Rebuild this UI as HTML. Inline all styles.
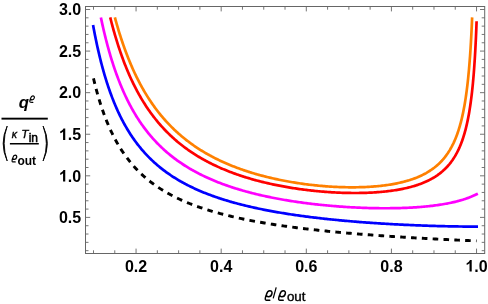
<!DOCTYPE html>
<html><head><meta charset="utf-8"><title>plot</title>
<style>
html,body{margin:0;padding:0;background:#fff;}
body{width:488px;height:304px;overflow:hidden;font-family:"Liberation Sans",sans-serif;}
svg{display:block;}
.gs{filter:grayscale(1);}
svg text{font-family:"Liberation Sans",sans-serif;}
.tl text{font-size:16px;font-weight:bold;fill:#000;}
.cv path{fill:none;stroke-width:2.7;stroke-linecap:butt;stroke-linejoin:round;}
</style></head>
<body>
<svg width="488" height="304" viewBox="0 0 488 304">
<rect x="0" y="0" width="488" height="304" fill="#fff"/>
<g class="cv">
<path d="M93.50,78.40 L93.88,80.01 L94.27,81.59 L94.65,83.15 L95.03,84.68 L95.42,86.18 L95.80,87.66 L96.18,89.11 L96.57,90.53 L96.95,91.94 L97.33,93.32 L97.72,94.67 L98.10,96.01 L98.48,97.32 L98.87,98.62 L99.25,99.89 L99.63,101.14 L100.01,102.37 L100.40,103.59 L100.78,104.78 L101.16,105.96 L101.55,107.12 L101.93,108.26 L102.51,109.94 L103.08,111.58 L103.66,113.19 L104.23,114.76 L104.81,116.30 L105.38,117.81 L105.96,119.28 L106.53,120.73 L107.10,122.14 L107.68,123.53 L108.25,124.89 L108.83,126.22 L109.40,127.52 L109.98,128.80 L110.55,130.06 L111.13,131.29 L111.70,132.50 L112.28,133.68 L112.85,134.85 L113.43,135.99 L114.00,137.11 L114.58,138.21 L115.15,139.29 L115.73,140.35 L116.49,141.74 L117.26,143.10 L118.03,144.42 L118.79,145.71 L119.56,146.98 L120.33,148.22 L121.09,149.43 L121.86,150.61 L122.63,151.77 L123.39,152.90 L124.16,154.01 L124.92,155.10 L125.69,156.17 L126.46,157.21 L127.22,158.23 L127.99,159.23 L128.76,160.22 L129.52,161.18 L130.29,162.12 L131.06,163.05 L132.01,164.19 L132.97,165.29 L133.93,166.37 L134.89,167.43 L135.85,168.46 L136.81,169.47 L137.76,170.46 L138.72,171.43 L139.68,172.37 L140.64,173.30 L141.60,174.20 L142.55,175.09 L143.51,175.96 L144.47,176.81 L145.43,177.64 L146.39,178.46 L147.34,179.26 L148.30,180.04 L149.26,180.81 L150.22,181.57 L151.18,182.31 L152.13,183.03 L153.28,183.89 L154.43,184.72 L155.58,185.54 L156.73,186.33 L157.88,187.11 L159.03,187.88 L160.18,188.63 L161.33,189.36 L162.48,190.08 L163.63,190.78 L164.78,191.47 L165.93,192.14 L167.08,192.81 L168.23,193.45 L169.38,194.09 L170.53,194.71 L171.68,195.33 L172.83,195.93 L173.98,196.52 L175.13,197.09 L176.28,197.66 L177.43,198.22 L178.58,198.77 L179.73,199.30 L180.88,199.83 L182.03,200.35 L183.18,200.86 L184.33,201.36 L185.48,201.85 L186.63,202.34 L187.77,202.81 L188.92,203.28 L190.07,203.74 L191.22,204.19 L192.37,204.64 L193.52,205.08 L194.67,205.51 L195.82,205.93 L196.97,206.35 L198.12,206.76 L199.27,207.17 L200.42,207.57 L201.57,207.96 L202.72,208.34 L203.87,208.73 L205.02,209.10 L206.17,209.47 L207.32,209.83 L208.47,210.19 L209.62,210.55 L210.77,210.89 L212.11,211.29 L213.45,211.69 L214.79,212.08 L216.13,212.46 L217.48,212.83 L218.82,213.20 L220.16,213.56 L221.50,213.92 L222.84,214.27 L224.18,214.62 L225.52,214.96 L226.86,215.29 L228.21,215.62 L229.55,215.95 L230.89,216.27 L232.23,216.59 L233.57,216.90 L234.91,217.20 L236.25,217.51 L237.60,217.81 L238.94,218.10 L240.28,218.39 L241.62,218.67 L242.96,218.96 L244.30,219.23 L245.64,219.51 L246.98,219.78 L248.33,220.04 L249.67,220.31 L251.01,220.57 L252.35,220.82 L253.69,221.07 L255.03,221.32 L256.37,221.57 L257.71,221.81 L259.06,222.05 L260.40,222.29 L261.74,222.52 L263.08,222.75 L264.42,222.98 L265.76,223.20 L267.10,223.43 L268.45,223.65 L269.79,223.86 L271.13,224.08 L272.47,224.29 L273.81,224.50 L275.15,224.70 L276.49,224.91 L277.83,225.11 L279.18,225.31 L280.52,225.50 L281.86,225.70 L283.20,225.89 L284.54,226.08 L285.88,226.27 L287.22,226.45 L288.56,226.64 L289.91,226.82 L291.25,227.00 L292.59,227.18 L293.93,227.35 L295.27,227.52 L296.61,227.70 L297.95,227.87 L299.30,228.03 L300.64,228.20 L301.98,228.37 L303.32,228.53 L304.66,228.69 L306.00,228.85 L307.34,229.01 L308.68,229.16 L310.03,229.32 L311.37,229.47 L312.71,229.62 L314.05,229.77 L315.39,229.92 L316.73,230.06 L318.07,230.21 L319.42,230.35 L320.76,230.50 L322.10,230.64 L323.44,230.78 L324.78,230.91 L326.12,231.05 L327.46,231.19 L328.80,231.32 L330.15,231.45 L331.49,231.59 L332.83,231.72 L334.17,231.84 L335.51,231.97 L336.85,232.10 L338.19,232.22 L339.53,232.35 L340.88,232.47 L342.22,232.59 L343.56,232.72 L344.90,232.84 L346.24,232.95 L347.58,233.07 L348.92,233.19 L350.27,233.30 L351.61,233.42 L352.95,233.53 L354.29,233.64 L355.63,233.76 L356.97,233.87 L358.31,233.98 L359.65,234.08 L361.00,234.19 L362.34,234.30 L363.68,234.41 L365.02,234.51 L366.36,234.61 L367.70,234.72 L369.04,234.82 L370.38,234.92 L371.73,235.02 L373.07,235.12 L374.41,235.22 L375.75,235.32 L377.09,235.42 L378.43,235.51 L379.77,235.61 L381.12,235.70 L382.46,235.80 L383.80,235.89 L385.14,235.98 L386.48,236.08 L387.82,236.17 L389.16,236.26 L390.50,236.35 L391.85,236.44 L393.19,236.52 L394.53,236.61 L395.87,236.70 L397.21,236.79 L398.55,236.87 L399.89,236.96 L401.23,237.04 L402.58,237.12 L403.92,237.21 L405.26,237.29 L406.60,237.37 L407.94,237.45 L409.28,237.53 L410.62,237.61 L411.97,237.69 L413.31,237.77 L414.65,237.85 L415.99,237.93 L417.33,238.00 L418.67,238.08 L420.01,238.16 L421.35,238.23 L422.70,238.31 L424.04,238.38 L425.38,238.45 L426.72,238.53 L428.06,238.60 L429.40,238.67 L430.74,238.74 L432.09,238.82 L433.43,238.89 L434.77,238.96 L436.11,239.03 L437.45,239.10 L438.79,239.16 L440.13,239.23 L441.47,239.30 L442.82,239.37 L444.16,239.43 L445.50,239.50 L446.84,239.57 L448.18,239.63 L449.52,239.70 L450.86,239.76 L452.20,239.83 L453.55,239.89 L454.89,239.95 L456.23,240.02 L457.57,240.08 L458.91,240.14 L460.25,240.20 L461.59,240.26 L462.94,240.33 L464.28,240.39 L465.62,240.45 L466.96,240.51 L468.30,240.57 L469.64,240.62 L470.98,240.68 L472.32,240.74 L473.67,240.80 L475.01,240.86 L476.35,240.91 L476.54,240.92" stroke="#000" stroke-dasharray="5.6 5.24" style="stroke-width:2.9"/>
<path d="M93.06,25.03 L93.50,27.39 L93.88,29.45 L94.27,31.47 L94.65,33.45 L95.03,35.40 L95.42,37.32 L95.80,39.20 L96.18,41.06 L96.57,42.88 L96.95,44.67 L97.33,46.43 L97.72,48.16 L98.10,49.86 L98.48,51.54 L98.87,53.18 L99.25,54.81 L99.63,56.40 L100.01,57.97 L100.40,59.52 L100.78,61.05 L101.16,62.55 L101.55,64.02 L101.93,65.48 L102.31,66.91 L102.70,68.32 L103.08,69.71 L103.46,71.08 L103.85,72.43 L104.23,73.77 L104.61,75.08 L105.00,76.37 L105.38,77.65 L105.76,78.90 L106.15,80.14 L106.53,81.37 L106.91,82.57 L107.30,83.76 L107.68,84.93 L108.06,86.09 L108.45,87.23 L109.02,88.92 L109.60,90.57 L110.17,92.19 L110.75,93.78 L111.32,95.33 L111.90,96.86 L112.47,98.36 L113.04,99.83 L113.62,101.28 L114.19,102.69 L114.77,104.09 L115.34,105.45 L115.92,106.80 L116.49,108.11 L117.07,109.41 L117.64,110.68 L118.22,111.94 L118.79,113.17 L119.37,114.38 L119.94,115.56 L120.52,116.73 L121.09,117.88 L121.67,119.02 L122.24,120.13 L122.82,121.22 L123.39,122.30 L123.97,123.36 L124.73,124.75 L125.50,126.11 L126.27,127.44 L127.03,128.74 L127.80,130.02 L128.57,131.27 L129.33,132.50 L130.10,133.71 L130.87,134.89 L131.63,136.04 L132.40,137.18 L133.16,138.29 L133.93,139.39 L134.70,140.46 L135.46,141.52 L136.23,142.55 L137.00,143.57 L137.76,144.56 L138.53,145.54 L139.30,146.51 L140.06,147.45 L140.83,148.38 L141.79,149.52 L142.75,150.64 L143.70,151.73 L144.66,152.80 L145.62,153.85 L146.58,154.88 L147.54,155.88 L148.49,156.87 L149.45,157.84 L150.41,158.78 L151.37,159.71 L152.33,160.63 L153.28,161.52 L154.24,162.40 L155.20,163.26 L156.16,164.10 L157.12,164.93 L158.07,165.75 L159.03,166.55 L159.99,167.33 L160.95,168.10 L161.91,168.86 L162.86,169.61 L163.82,170.34 L164.97,171.20 L166.12,172.04 L167.27,172.87 L168.42,173.68 L169.57,174.48 L170.72,175.25 L171.87,176.02 L173.02,176.77 L174.17,177.50 L175.32,178.22 L176.47,178.93 L177.62,179.62 L178.77,180.31 L179.92,180.97 L181.07,181.63 L182.22,182.28 L183.37,182.91 L184.52,183.53 L185.67,184.14 L186.82,184.74 L187.97,185.33 L189.12,185.91 L190.27,186.48 L191.42,187.04 L192.57,187.59 L193.72,188.13 L194.86,188.67 L196.01,189.19 L197.16,189.71 L198.31,190.21 L199.46,190.71 L200.61,191.20 L201.76,191.69 L202.91,192.16 L204.06,192.63 L205.21,193.09 L206.36,193.54 L207.51,193.99 L208.66,194.43 L209.81,194.86 L210.96,195.29 L212.11,195.71 L213.26,196.13 L214.41,196.53 L215.56,196.94 L216.71,197.33 L217.86,197.72 L219.01,198.11 L220.16,198.49 L221.31,198.86 L222.46,199.23 L223.61,199.59 L224.76,199.95 L225.91,200.30 L227.06,200.65 L228.40,201.05 L229.74,201.45 L231.08,201.83 L232.42,202.22 L233.76,202.59 L235.10,202.96 L236.45,203.32 L237.79,203.68 L239.13,204.04 L240.47,204.38 L241.81,204.73 L243.15,205.06 L244.49,205.39 L245.83,205.72 L247.18,206.04 L248.52,206.36 L249.86,206.67 L251.20,206.98 L252.54,207.29 L253.88,207.58 L255.22,207.88 L256.57,208.17 L257.91,208.46 L259.25,208.74 L260.59,209.02 L261.93,209.29 L263.27,209.56 L264.61,209.83 L265.95,210.09 L267.30,210.35 L268.64,210.61 L269.98,210.86 L271.32,211.11 L272.66,211.36 L274.00,211.60 L275.34,211.84 L276.68,212.07 L278.03,212.31 L279.37,212.53 L280.71,212.76 L282.05,212.98 L283.39,213.20 L284.73,213.42 L286.07,213.64 L287.42,213.85 L288.76,214.06 L290.10,214.26 L291.44,214.47 L292.78,214.67 L294.12,214.87 L295.46,215.06 L296.80,215.26 L298.15,215.45 L299.49,215.63 L300.83,215.82 L302.17,216.00 L303.51,216.18 L304.85,216.36 L306.19,216.54 L307.53,216.71 L308.88,216.89 L310.22,217.06 L311.56,217.22 L312.90,217.39 L314.24,217.55 L315.58,217.71 L316.92,217.87 L318.27,218.03 L319.61,218.18 L320.95,218.34 L322.29,218.49 L323.63,218.64 L324.97,218.79 L326.31,218.93 L327.65,219.08 L329.00,219.22 L330.34,219.36 L331.68,219.50 L333.02,219.63 L334.36,219.77 L335.70,219.90 L337.04,220.03 L338.39,220.16 L339.73,220.29 L341.07,220.42 L342.41,220.54 L343.75,220.67 L345.09,220.79 L346.43,220.91 L347.77,221.03 L349.12,221.14 L350.46,221.26 L351.80,221.37 L353.14,221.49 L354.48,221.60 L355.82,221.71 L357.16,221.81 L358.50,221.92 L359.85,222.03 L361.19,222.13 L362.53,222.23 L363.87,222.33 L365.21,222.43 L366.55,222.53 L367.89,222.63 L369.24,222.72 L370.58,222.82 L371.92,222.91 L373.26,223.00 L374.60,223.09 L375.94,223.18 L377.28,223.27 L378.62,223.36 L379.97,223.44 L381.31,223.53 L382.65,223.61 L383.99,223.69 L385.33,223.77 L386.67,223.85 L388.01,223.93 L389.35,224.01 L390.70,224.08 L392.04,224.16 L393.38,224.23 L394.72,224.30 L396.06,224.38 L397.40,224.45 L398.74,224.51 L400.09,224.58 L401.43,224.65 L402.77,224.71 L404.11,224.78 L405.45,224.84 L406.79,224.90 L408.13,224.96 L409.47,225.02 L410.82,225.08 L412.16,225.14 L413.50,225.20 L414.84,225.25 L416.18,225.31 L417.52,225.36 L418.86,225.41 L420.20,225.46 L421.55,225.51 L422.89,225.56 L424.23,225.61 L425.57,225.66 L426.91,225.70 L428.25,225.75 L429.59,225.79 L430.94,225.83 L432.28,225.88 L433.62,225.92 L434.96,225.96 L436.30,225.99 L437.64,226.03 L438.98,226.07 L440.32,226.10 L441.67,226.14 L443.01,226.17 L444.35,226.20 L445.69,226.23 L447.03,226.26 L448.37,226.29 L449.71,226.32 L451.06,226.34 L452.40,226.37 L453.74,226.39 L455.08,226.42 L456.42,226.44 L457.76,226.46 L459.10,226.48 L460.44,226.50 L461.79,226.51 L463.13,226.53 L464.47,226.55 L465.81,226.56 L467.15,226.57 L468.49,226.59 L469.83,226.60 L471.17,226.61 L472.52,226.61 L473.86,226.62 L475.20,226.63 L476.54,226.63 L478.04,226.64" stroke="#0000ff"/>
<path d="M100.87,17.40 L101.16,18.80 L101.55,20.60 L101.93,22.37 L102.31,24.11 L102.70,25.83 L103.08,27.53 L103.46,29.19 L103.85,30.84 L104.23,32.46 L104.61,34.05 L105.00,35.63 L105.38,37.18 L105.76,38.71 L106.15,40.22 L106.53,41.70 L106.91,43.17 L107.30,44.62 L107.68,46.04 L108.06,47.45 L108.45,48.84 L108.83,50.21 L109.21,51.56 L109.60,52.90 L109.98,54.21 L110.36,55.51 L110.75,56.80 L111.13,58.06 L111.51,59.31 L111.90,60.55 L112.28,61.76 L112.66,62.97 L113.04,64.16 L113.43,65.33 L113.81,66.49 L114.19,67.64 L114.77,69.33 L115.34,70.99 L115.92,72.62 L116.49,74.22 L117.07,75.80 L117.64,77.34 L118.22,78.86 L118.79,80.36 L119.37,81.83 L119.94,83.27 L120.52,84.69 L121.09,86.09 L121.67,87.46 L122.24,88.81 L122.82,90.14 L123.39,91.45 L123.97,92.74 L124.54,94.00 L125.12,95.25 L125.69,96.48 L126.27,97.68 L126.84,98.87 L127.42,100.05 L127.99,101.20 L128.57,102.34 L129.14,103.46 L129.72,104.56 L130.29,105.65 L130.87,106.72 L131.44,107.77 L132.21,109.15 L132.97,110.51 L133.74,111.84 L134.51,113.15 L135.27,114.43 L136.04,115.69 L136.81,116.93 L137.57,118.14 L138.34,119.33 L139.10,120.50 L139.87,121.65 L140.64,122.78 L141.40,123.89 L142.17,124.99 L142.94,126.06 L143.70,127.11 L144.47,128.15 L145.24,129.17 L146.00,130.17 L146.77,131.16 L147.54,132.13 L148.30,133.09 L149.07,134.03 L149.84,134.95 L150.79,136.09 L151.75,137.20 L152.71,138.29 L153.67,139.36 L154.63,140.41 L155.58,141.44 L156.54,142.45 L157.50,143.45 L158.46,144.42 L159.42,145.38 L160.37,146.32 L161.33,147.24 L162.29,148.14 L163.25,149.03 L164.21,149.91 L165.16,150.77 L166.12,151.61 L167.08,152.44 L168.04,153.26 L169.00,154.06 L169.95,154.85 L170.91,155.62 L171.87,156.38 L172.83,157.13 L173.79,157.87 L174.75,158.60 L175.89,159.45 L177.04,160.29 L178.19,161.11 L179.34,161.92 L180.49,162.71 L181.64,163.49 L182.79,164.25 L183.94,165.00 L185.09,165.74 L186.24,166.46 L187.39,167.17 L188.54,167.87 L189.69,168.55 L190.84,169.23 L191.99,169.89 L193.14,170.54 L194.29,171.17 L195.44,171.80 L196.59,172.42 L197.74,173.03 L198.89,173.62 L200.04,174.21 L201.19,174.78 L202.34,175.35 L203.49,175.91 L204.64,176.46 L205.79,177.00 L206.94,177.53 L208.09,178.05 L209.24,178.57 L210.39,179.07 L211.54,179.57 L212.69,180.06 L213.83,180.55 L214.98,181.02 L216.13,181.49 L217.28,181.95 L218.43,182.40 L219.58,182.85 L220.73,183.29 L221.88,183.72 L223.03,184.15 L224.18,184.57 L225.33,184.98 L226.48,185.39 L227.63,185.79 L228.78,186.19 L229.93,186.58 L231.08,186.97 L232.23,187.34 L233.38,187.72 L234.53,188.09 L235.68,188.45 L236.83,188.80 L237.98,189.16 L239.13,189.50 L240.47,189.90 L241.81,190.29 L243.15,190.68 L244.49,191.06 L245.83,191.43 L247.18,191.80 L248.52,192.16 L249.86,192.51 L251.20,192.86 L252.54,193.21 L253.88,193.54 L255.22,193.88 L256.57,194.20 L257.91,194.52 L259.25,194.84 L260.59,195.15 L261.93,195.46 L263.27,195.76 L264.61,196.05 L265.95,196.35 L267.30,196.63 L268.64,196.91 L269.98,197.19 L271.32,197.46 L272.66,197.73 L274.00,198.00 L275.34,198.26 L276.68,198.51 L278.03,198.76 L279.37,199.01 L280.71,199.25 L282.05,199.49 L283.39,199.73 L284.73,199.96 L286.07,200.18 L287.42,200.41 L288.76,200.63 L290.10,200.84 L291.44,201.06 L292.78,201.26 L294.12,201.47 L295.46,201.67 L296.80,201.87 L298.15,202.06 L299.49,202.25 L300.83,202.44 L302.17,202.63 L303.51,202.81 L304.85,202.98 L306.19,203.16 L307.53,203.33 L308.88,203.50 L310.22,203.66 L311.56,203.82 L312.90,203.98 L314.24,204.14 L315.58,204.29 L316.92,204.44 L318.27,204.59 L319.61,204.73 L320.95,204.87 L322.29,205.01 L323.63,205.14 L324.97,205.27 L326.31,205.40 L327.65,205.53 L329.00,205.65 L330.34,205.77 L331.68,205.89 L333.02,206.00 L334.36,206.11 L335.70,206.22 L337.04,206.33 L338.39,206.43 L339.73,206.53 L341.07,206.63 L342.41,206.72 L343.75,206.81 L345.09,206.90 L346.43,206.99 L347.77,207.07 L349.12,207.15 L350.46,207.23 L351.80,207.30 L353.14,207.38 L354.48,207.45 L355.82,207.51 L357.16,207.58 L358.50,207.64 L359.85,207.70 L361.19,207.75 L362.53,207.81 L363.87,207.85 L365.21,207.90 L366.55,207.95 L367.89,207.99 L369.24,208.03 L370.58,208.06 L371.92,208.09 L373.26,208.12 L374.60,208.15 L375.94,208.17 L377.28,208.19 L378.62,208.21 L379.97,208.23 L381.31,208.24 L382.65,208.24 L383.99,208.25 L385.33,208.25 L386.67,208.25 L388.01,208.24 L389.35,208.24 L390.70,208.22 L392.04,208.21 L393.38,208.19 L394.72,208.17 L396.06,208.14 L397.40,208.11 L398.74,208.08 L400.09,208.04 L401.43,208.00 L402.77,207.96 L404.11,207.91 L405.45,207.86 L406.79,207.80 L408.13,207.74 L409.47,207.67 L410.82,207.60 L412.16,207.53 L413.50,207.45 L414.84,207.37 L416.18,207.28 L417.52,207.18 L418.86,207.09 L420.20,206.98 L421.55,206.87 L422.89,206.76 L424.23,206.64 L425.57,206.51 L426.91,206.38 L428.25,206.24 L429.59,206.10 L430.94,205.95 L432.28,205.79 L433.62,205.63 L434.96,205.46 L436.30,205.28 L437.64,205.09 L438.98,204.90 L440.32,204.69 L441.67,204.48 L443.01,204.26 L444.35,204.03 L445.69,203.79 L447.03,203.55 L448.37,203.29 L449.71,203.02 L451.06,202.74 L452.40,202.44 L453.74,202.14 L455.08,201.82 L456.42,201.49 L457.76,201.15 L459.10,200.79 L460.44,200.41 L461.79,200.02 L462.94,199.67 L464.08,199.31 L465.23,198.93 L466.38,198.54 L467.53,198.13 L468.68,197.71 L469.83,197.27 L470.98,196.82 L472.13,196.34 L473.28,195.85 L474.43,195.33 L475.58,194.79 L476.54,194.32 L477.89,193.67" stroke="#ff00ff"/>
<path d="M110.21,17.40 L110.55,18.76 L110.94,20.27 L111.32,21.75 L111.70,23.22 L112.09,24.66 L112.47,26.09 L112.85,27.51 L113.24,28.90 L113.62,30.28 L114.00,31.64 L114.39,32.98 L114.77,34.30 L115.15,35.62 L115.54,36.91 L115.92,38.19 L116.30,39.45 L116.69,40.70 L117.07,41.94 L117.45,43.16 L117.84,44.36 L118.22,45.56 L118.60,46.73 L118.98,47.90 L119.37,49.05 L119.75,50.19 L120.33,51.87 L120.90,53.53 L121.48,55.16 L122.05,56.76 L122.63,58.34 L123.20,59.89 L123.78,61.41 L124.35,62.91 L124.92,64.39 L125.50,65.84 L126.07,67.28 L126.65,68.69 L127.22,70.07 L127.80,71.44 L128.37,72.79 L128.95,74.11 L129.52,75.42 L130.10,76.70 L130.67,77.97 L131.25,79.22 L131.82,80.45 L132.40,81.67 L132.97,82.86 L133.55,84.04 L134.12,85.20 L134.70,86.35 L135.27,87.48 L135.85,88.59 L136.42,89.69 L137.00,90.78 L137.57,91.85 L138.15,92.90 L138.91,94.29 L139.68,95.65 L140.45,96.98 L141.21,98.30 L141.98,99.59 L142.75,100.85 L143.51,102.10 L144.28,103.33 L145.04,104.53 L145.81,105.72 L146.58,106.88 L147.34,108.03 L148.11,109.15 L148.88,110.26 L149.64,111.35 L150.41,112.43 L151.18,113.48 L151.94,114.53 L152.71,115.55 L153.48,116.56 L154.24,117.55 L155.01,118.53 L155.78,119.49 L156.54,120.44 L157.31,121.37 L158.27,122.52 L159.22,123.65 L160.18,124.75 L161.14,125.84 L162.10,126.91 L163.06,127.95 L164.01,128.98 L164.97,129.99 L165.93,130.99 L166.89,131.96 L167.85,132.92 L168.81,133.86 L169.76,134.79 L170.72,135.70 L171.68,136.59 L172.64,137.48 L173.60,138.34 L174.55,139.19 L175.51,140.03 L176.47,140.86 L177.43,141.67 L178.39,142.46 L179.34,143.25 L180.30,144.02 L181.26,144.78 L182.22,145.53 L183.18,146.27 L184.13,146.99 L185.28,147.85 L186.43,148.69 L187.58,149.52 L188.73,150.33 L189.88,151.12 L191.03,151.90 L192.18,152.67 L193.33,153.42 L194.48,154.16 L195.63,154.89 L196.78,155.61 L197.93,156.31 L199.08,157.00 L200.23,157.68 L201.38,158.35 L202.53,159.00 L203.68,159.65 L204.83,160.28 L205.98,160.91 L207.13,161.52 L208.28,162.12 L209.43,162.72 L210.58,163.30 L211.73,163.87 L212.88,164.44 L214.03,164.99 L215.18,165.54 L216.33,166.08 L217.48,166.61 L218.63,167.13 L219.77,167.64 L220.92,168.15 L222.07,168.64 L223.22,169.13 L224.37,169.61 L225.52,170.09 L226.67,170.55 L227.82,171.01 L228.97,171.46 L230.12,171.91 L231.27,172.35 L232.42,172.78 L233.57,173.20 L234.72,173.62 L235.87,174.03 L237.02,174.44 L238.17,174.83 L239.32,175.23 L240.47,175.61 L241.62,175.99 L242.77,176.37 L243.92,176.74 L245.07,177.10 L246.22,177.46 L247.37,177.81 L248.52,178.16 L249.86,178.56 L251.20,178.95 L252.54,179.33 L253.88,179.71 L255.22,180.08 L256.57,180.44 L257.91,180.80 L259.25,181.15 L260.59,181.50 L261.93,181.83 L263.27,182.17 L264.61,182.49 L265.95,182.81 L267.30,183.12 L268.64,183.43 L269.98,183.73 L271.32,184.03 L272.66,184.32 L274.00,184.61 L275.34,184.89 L276.68,185.16 L278.03,185.43 L279.37,185.69 L280.71,185.95 L282.05,186.20 L283.39,186.45 L284.73,186.70 L286.07,186.93 L287.42,187.17 L288.76,187.40 L290.10,187.62 L291.44,187.84 L292.78,188.05 L294.12,188.26 L295.46,188.46 L296.80,188.66 L298.15,188.86 L299.49,189.05 L300.83,189.23 L302.17,189.41 L303.51,189.59 L304.85,189.76 L306.19,189.93 L307.53,190.09 L308.88,190.25 L310.22,190.41 L311.56,190.56 L312.90,190.70 L314.24,190.84 L315.58,190.98 L316.92,191.11 L318.27,191.24 L319.61,191.36 L320.95,191.48 L322.29,191.60 L323.63,191.71 L324.97,191.81 L326.31,191.91 L327.65,192.01 L329.00,192.10 L330.34,192.19 L331.68,192.28 L333.02,192.36 L334.36,192.43 L335.70,192.50 L337.04,192.57 L338.39,192.63 L339.73,192.69 L341.07,192.74 L342.41,192.79 L343.75,192.83 L345.09,192.87 L346.43,192.90 L347.77,192.93 L349.12,192.95 L350.46,192.97 L351.80,192.99 L353.14,193.00 L354.48,193.00 L355.82,193.00 L357.16,192.99 L358.50,192.98 L359.85,192.97 L361.19,192.94 L362.53,192.92 L363.87,192.88 L365.21,192.85 L366.55,192.80 L367.89,192.75 L369.24,192.69 L370.58,192.63 L371.92,192.56 L373.26,192.49 L374.60,192.40 L375.94,192.32 L377.28,192.22 L378.62,192.12 L379.97,192.01 L381.31,191.89 L382.65,191.77 L383.99,191.64 L385.33,191.50 L386.67,191.35 L388.01,191.19 L389.35,191.03 L390.70,190.85 L392.04,190.67 L393.38,190.48 L394.72,190.27 L396.06,190.06 L397.40,189.84 L398.74,189.61 L400.09,189.36 L401.43,189.10 L402.77,188.83 L404.11,188.55 L405.45,188.26 L406.79,187.95 L408.13,187.63 L409.47,187.29 L410.82,186.94 L412.16,186.57 L413.50,186.19 L414.65,185.84 L415.80,185.48 L416.95,185.11 L418.10,184.72 L419.25,184.32 L420.40,183.90 L421.55,183.47 L422.70,183.02 L423.85,182.55 L425.00,182.06 L426.15,181.54 L427.29,181.01 L428.44,180.46 L429.59,179.88 L430.74,179.28 L431.89,178.65 L433.04,177.99 L434.19,177.30 L435.34,176.58 L436.49,175.82 L437.64,175.04 L438.79,174.21 L439.94,173.34 L440.90,172.58 L441.86,171.79 L442.82,170.97 L443.77,170.10 L444.73,169.20 L445.69,168.26 L446.65,167.28 L447.61,166.24 L448.56,165.16 L449.52,164.02 L450.29,163.06 L451.06,162.07 L451.82,161.03 L452.59,159.94 L453.35,158.81 L454.12,157.62 L454.89,156.38 L455.65,155.07 L456.42,153.70 L457.00,152.63 L457.57,151.51 L458.14,150.35 L458.72,149.14 L459.29,147.88 L459.87,146.57 L460.44,145.19 L461.02,143.75 L461.59,142.25 L462.17,140.67 L462.74,139.02 L463.13,137.87 L463.51,136.68 L463.89,135.44 L464.28,134.17 L464.66,132.84 L465.04,131.47 L465.43,130.04 L465.81,128.56 L466.19,127.01 L466.58,125.41 L466.96,123.73 L467.34,121.98 L467.73,120.15 L468.11,118.24 L468.49,116.24 L468.88,114.13 L469.26,111.93 L469.64,109.60 L469.83,108.39 L470.03,107.15 L470.22,105.87 L470.41,104.56 L470.60,103.21 L470.79,101.82 L470.98,100.39 L471.17,98.92 L471.37,97.40 L471.56,95.83 L471.75,94.22 L471.94,92.55 L472.13,90.82 L472.32,89.04 L472.52,87.19 L472.71,85.27 L472.90,83.29 L473.09,81.23 L473.28,79.09 L473.47,76.87 L473.67,74.56 L473.86,72.15 L474.05,69.64 L474.24,67.02 L474.43,64.28 L474.62,61.41 L474.82,58.41 L475.01,55.26 L475.20,51.94 L475.39,48.45 L475.58,44.77 L475.77,40.88 L475.97,36.76 L476.16,32.38 L476.35,27.73 L476.54,22.77 L476.60,21.27" stroke="#ff0000"/>
<path d="M114.87,17.40 L115.34,19.15 L115.73,20.54 L116.11,21.90 L116.49,23.26 L116.88,24.59 L117.26,25.92 L117.64,27.22 L118.03,28.51 L118.41,29.79 L118.79,31.05 L119.18,32.29 L119.56,33.53 L119.94,34.75 L120.33,35.95 L120.71,37.14 L121.09,38.32 L121.48,39.49 L121.86,40.64 L122.24,41.78 L122.82,43.47 L123.39,45.13 L123.97,46.76 L124.54,48.37 L125.12,49.95 L125.69,51.50 L126.27,53.04 L126.84,54.55 L127.42,56.03 L127.99,57.50 L128.57,58.94 L129.14,60.36 L129.72,61.76 L130.29,63.13 L130.87,64.49 L131.44,65.83 L132.01,67.15 L132.59,68.45 L133.16,69.73 L133.74,70.99 L134.31,72.24 L134.89,73.46 L135.46,74.67 L136.04,75.87 L136.61,77.05 L137.19,78.21 L137.76,79.35 L138.34,80.48 L138.91,81.60 L139.49,82.70 L140.06,83.78 L140.64,84.85 L141.21,85.91 L141.98,87.30 L142.75,88.66 L143.51,90.01 L144.28,91.32 L145.04,92.62 L145.81,93.90 L146.58,95.15 L147.34,96.38 L148.11,97.60 L148.88,98.79 L149.64,99.96 L150.41,101.12 L151.18,102.26 L151.94,103.37 L152.71,104.48 L153.48,105.56 L154.24,106.63 L155.01,107.68 L155.78,108.72 L156.54,109.74 L157.31,110.74 L158.07,111.73 L158.84,112.71 L159.61,113.67 L160.37,114.61 L161.14,115.55 L162.10,116.69 L163.06,117.82 L164.01,118.93 L164.97,120.01 L165.93,121.08 L166.89,122.13 L167.85,123.16 L168.81,124.18 L169.76,125.17 L170.72,126.15 L171.68,127.12 L172.64,128.06 L173.60,128.99 L174.55,129.91 L175.51,130.81 L176.47,131.70 L177.43,132.57 L178.39,133.43 L179.34,134.27 L180.30,135.10 L181.26,135.92 L182.22,136.72 L183.18,137.52 L184.13,138.30 L185.09,139.07 L186.05,139.82 L187.01,140.57 L187.97,141.30 L189.12,142.17 L190.27,143.02 L191.42,143.85 L192.57,144.67 L193.72,145.48 L194.86,146.27 L196.01,147.04 L197.16,147.81 L198.31,148.56 L199.46,149.30 L200.61,150.02 L201.76,150.74 L202.91,151.44 L204.06,152.13 L205.21,152.80 L206.36,153.47 L207.51,154.12 L208.66,154.77 L209.81,155.40 L210.96,156.03 L212.11,156.64 L213.26,157.24 L214.41,157.84 L215.56,158.42 L216.71,158.99 L217.86,159.56 L219.01,160.11 L220.16,160.66 L221.31,161.20 L222.46,161.73 L223.61,162.25 L224.76,162.77 L225.91,163.27 L227.06,163.77 L228.21,164.26 L229.36,164.74 L230.51,165.21 L231.65,165.68 L232.80,166.14 L233.95,166.59 L235.10,167.04 L236.25,167.48 L237.40,167.91 L238.55,168.33 L239.70,168.75 L240.85,169.16 L242.00,169.57 L243.15,169.97 L244.30,170.36 L245.45,170.75 L246.60,171.13 L247.75,171.51 L248.90,171.88 L250.05,172.24 L251.20,172.60 L252.35,172.95 L253.50,173.30 L254.84,173.70 L256.18,174.09 L257.52,174.47 L258.86,174.85 L260.21,175.22 L261.55,175.58 L262.89,175.93 L264.23,176.28 L265.57,176.63 L266.91,176.96 L268.25,177.29 L269.59,177.62 L270.94,177.93 L272.28,178.25 L273.62,178.55 L274.96,178.85 L276.30,179.14 L277.64,179.43 L278.98,179.71 L280.33,179.99 L281.67,180.26 L283.01,180.53 L284.35,180.78 L285.69,181.04 L287.03,181.29 L288.37,181.53 L289.71,181.77 L291.06,182.00 L292.40,182.23 L293.74,182.45 L295.08,182.67 L296.42,182.88 L297.76,183.08 L299.10,183.29 L300.45,183.48 L301.79,183.67 L303.13,183.86 L304.47,184.04 L305.81,184.22 L307.15,184.39 L308.49,184.56 L309.83,184.72 L311.18,184.88 L312.52,185.03 L313.86,185.18 L315.20,185.32 L316.54,185.46 L317.88,185.59 L319.22,185.72 L320.56,185.84 L321.91,185.96 L323.25,186.07 L324.59,186.18 L325.93,186.28 L327.27,186.38 L328.61,186.48 L329.95,186.57 L331.30,186.65 L332.64,186.73 L333.98,186.80 L335.32,186.87 L336.66,186.94 L338.00,187.00 L339.34,187.05 L340.68,187.10 L342.03,187.14 L343.37,187.18 L344.71,187.21 L346.05,187.24 L347.39,187.27 L348.73,187.28 L350.07,187.29 L351.41,187.30 L352.76,187.30 L354.10,187.30 L355.44,187.28 L356.78,187.27 L358.12,187.24 L359.46,187.22 L360.80,187.18 L362.15,187.14 L363.49,187.09 L364.83,187.04 L366.17,186.98 L367.51,186.91 L368.85,186.83 L370.19,186.75 L371.53,186.66 L372.88,186.57 L374.22,186.46 L375.56,186.35 L376.90,186.23 L378.24,186.10 L379.58,185.97 L380.92,185.82 L382.27,185.67 L383.61,185.51 L384.95,185.34 L386.29,185.16 L387.63,184.97 L388.97,184.77 L390.31,184.55 L391.65,184.33 L393.00,184.10 L394.34,183.85 L395.68,183.60 L397.02,183.33 L398.36,183.05 L399.70,182.75 L401.04,182.44 L402.38,182.12 L403.73,181.78 L405.07,181.42 L406.41,181.05 L407.75,180.66 L408.90,180.32 L410.05,179.95 L411.20,179.58 L412.35,179.19 L413.50,178.78 L414.65,178.36 L415.80,177.92 L416.95,177.47 L418.10,176.99 L419.25,176.50 L420.40,175.98 L421.55,175.45 L422.70,174.89 L423.85,174.31 L425.00,173.70 L426.15,173.07 L427.29,172.41 L428.44,171.71 L429.59,170.99 L430.74,170.24 L431.89,169.45 L433.04,168.62 L434.19,167.76 L435.15,167.00 L436.11,166.21 L437.07,165.40 L438.03,164.54 L438.98,163.65 L439.94,162.72 L440.90,161.75 L441.86,160.73 L442.82,159.66 L443.77,158.54 L444.54,157.61 L445.31,156.63 L446.07,155.62 L446.84,154.57 L447.61,153.47 L448.37,152.32 L449.14,151.12 L449.91,149.86 L450.67,148.54 L451.44,147.17 L452.01,146.09 L452.59,144.97 L453.16,143.80 L453.74,142.59 L454.31,141.33 L454.89,140.02 L455.46,138.66 L456.04,137.23 L456.61,135.74 L457.19,134.18 L457.76,132.55 L458.34,130.84 L458.72,129.65 L459.10,128.43 L459.49,127.16 L459.87,125.84 L460.25,124.48 L460.64,123.07 L461.02,121.61 L461.40,120.09 L461.79,118.51 L462.17,116.87 L462.55,115.16 L462.94,113.38 L463.32,111.52 L463.70,109.58 L464.08,107.54 L464.47,105.42 L464.85,103.19 L465.23,100.85 L465.43,99.63 L465.62,98.38 L465.81,97.10 L466.00,95.79 L466.19,94.44 L466.38,93.05 L466.58,91.62 L466.77,90.16 L466.96,88.65 L467.15,87.09 L467.34,85.49 L467.53,83.83 L467.73,82.13 L467.92,80.37 L468.11,78.55 L468.30,76.67 L468.49,74.73 L468.68,72.71 L468.88,70.63 L469.07,68.47 L469.26,66.22 L469.45,63.89 L469.64,61.47 L469.83,58.95 L470.03,56.32 L470.22,53.58 L470.41,50.72 L470.60,47.73 L470.79,44.60 L470.98,41.32 L471.17,37.87 L471.37,34.25 L471.56,30.43 L471.75,26.41 L471.94,22.15 L472.13,17.64 L472.14,17.40" stroke="#ff8000"/>
</g>
<path d="M85.5,250.66h3.0 M484.7,250.66h-3.0 M85.5,242.35h3.0 M484.7,242.35h-3.0 M85.5,234.03h3.0 M484.7,234.03h-3.0 M85.5,225.72h3.0 M484.7,225.72h-3.0 M85.5,217.40h4.7 M484.7,217.40h-4.7 M85.5,209.08h3.0 M484.7,209.08h-3.0 M85.5,200.77h3.0 M484.7,200.77h-3.0 M85.5,192.45h3.0 M484.7,192.45h-3.0 M85.5,184.14h3.0 M484.7,184.14h-3.0 M85.5,175.82h4.7 M484.7,175.82h-4.7 M85.5,167.50h3.0 M484.7,167.50h-3.0 M85.5,159.19h3.0 M484.7,159.19h-3.0 M85.5,150.87h3.0 M484.7,150.87h-3.0 M85.5,142.56h3.0 M484.7,142.56h-3.0 M85.5,134.24h4.7 M484.7,134.24h-4.7 M85.5,125.92h3.0 M484.7,125.92h-3.0 M85.5,117.61h3.0 M484.7,117.61h-3.0 M85.5,109.29h3.0 M484.7,109.29h-3.0 M85.5,100.98h3.0 M484.7,100.98h-3.0 M85.5,92.66h4.7 M484.7,92.66h-4.7 M85.5,84.34h3.0 M484.7,84.34h-3.0 M85.5,76.03h3.0 M484.7,76.03h-3.0 M85.5,67.71h3.0 M484.7,67.71h-3.0 M85.5,59.40h3.0 M484.7,59.40h-3.0 M85.5,51.08h4.7 M484.7,51.08h-4.7 M85.5,42.76h3.0 M484.7,42.76h-3.0 M85.5,34.45h3.0 M484.7,34.45h-3.0 M85.5,26.13h3.0 M484.7,26.13h-3.0 M85.5,17.82h3.0 M484.7,17.82h-3.0 M85.5,9.50h4.7 M484.7,9.50h-4.7 M93.50,253.5v-3.2 M93.50,6.5v3.2 M114.78,253.5v-3.2 M114.78,6.5v3.2 M136.06,253.5v-4.9 M136.06,6.5v4.9 M157.34,253.5v-3.2 M157.34,6.5v3.2 M178.62,253.5v-3.2 M178.62,6.5v3.2 M199.90,253.5v-3.2 M199.90,6.5v3.2 M221.18,253.5v-4.9 M221.18,6.5v4.9 M242.46,253.5v-3.2 M242.46,6.5v3.2 M263.74,253.5v-3.2 M263.74,6.5v3.2 M285.02,253.5v-3.2 M285.02,6.5v3.2 M306.30,253.5v-4.9 M306.30,6.5v4.9 M327.58,253.5v-3.2 M327.58,6.5v3.2 M348.86,253.5v-3.2 M348.86,6.5v3.2 M370.14,253.5v-3.2 M370.14,6.5v3.2 M391.42,253.5v-4.9 M391.42,6.5v4.9 M412.70,253.5v-3.2 M412.70,6.5v3.2 M433.98,253.5v-3.2 M433.98,6.5v3.2 M455.26,253.5v-3.2 M455.26,6.5v3.2 M476.54,253.5v-4.9 M476.54,6.5v4.9" stroke="#666" stroke-width="0.9" fill="none"/>
<rect x="85.5" y="6.5" width="399.2" height="247.0" fill="none" stroke="#666" stroke-width="1"/>
<g class="tl gs"><text x="58.96" y="223.10">0.5</text><path d="M806 0H525V1059Q371 915 162 846V1101Q272 1137 401 1237.5Q530 1338 578 1472H806Z" transform="translate(58.96,181.52) scale(0.0078125,-0.0078125)"/><text x="67.86" y="181.52">.0</text><path d="M806 0H525V1059Q371 915 162 846V1101Q272 1137 401 1237.5Q530 1338 578 1472H806Z" transform="translate(58.96,139.94) scale(0.0078125,-0.0078125)"/><text x="67.86" y="139.94">.5</text><text x="58.96" y="98.36">2.0</text><text x="58.96" y="56.78">2.5</text><text x="58.96" y="15.20">3.0</text><text x="124.94" y="271.60">0.2</text><text x="210.06" y="271.60">0.4</text><text x="295.18" y="271.60">0.6</text><text x="380.30" y="271.60">0.8</text><path d="M806 0H525V1059Q371 915 162 846V1101Q272 1137 401 1237.5Q530 1338 578 1472H806Z" transform="translate(465.42,271.60) scale(0.0078125,-0.0078125)"/><text x="474.32" y="271.60">.0</text></g>
<!-- y axis label -->
<g fill="#000" class="gs">
<text x="18.8" y="107.5" font-size="16.8" font-weight="bold" font-style="italic">q</text>
<path d="M5.4,2.7 C3.6,2.8 1.8,2.9 1.1,2.1 C0.5,1.3 1.2,-1.0 1.9,-2.9 C2.6,-5.0 3.8,-6.75 5.4,-6.75 C7.2,-6.75 7.9,-5.5 7.5,-3.9 C7.1,-2.2 5.8,-0.95 4.2,-0.95 C2.8,-0.95 1.9,-1.7 1.9,-2.9" transform="translate(29.2,100.5) scale(0.68)" stroke-width="1.75" fill="none" stroke="#000" stroke-linecap="round" stroke-linejoin="round"/>
<rect x="1.5" y="117.7" width="46.3" height="1.9"/>
<text x="11.7" y="137.8" font-size="10.5" font-style="italic" stroke="#000" stroke-width="0.4">κ</text>
<text x="21.2" y="138.0" font-size="11.8" font-style="italic" stroke="#000" stroke-width="0.35">T</text>
<text x="28.7" y="141.8" font-size="12" stroke="#000" stroke-width="0.5">in</text>
<rect x="9.9" y="143.0" width="28.9" height="1.5"/>
<path d="M5.4,2.7 C3.6,2.8 1.8,2.9 1.1,2.1 C0.5,1.3 1.2,-1.0 1.9,-2.9 C2.6,-5.0 3.8,-6.75 5.4,-6.75 C7.2,-6.75 7.9,-5.5 7.5,-3.9 C7.1,-2.2 5.8,-0.95 4.2,-0.95 C2.8,-0.95 1.9,-1.7 1.9,-2.9" transform="translate(11.35,160.0) scale(0.71)" stroke-width="1.75" fill="none" stroke="#000" stroke-linecap="round" stroke-linejoin="round"/>
<text x="17.4" y="164.9" font-size="12" font-weight="bold">out</text>
<path d="M7.2,126.0 Q-0.9,143.5 7.2,161.0 Q1.1,143.5 7.2,126.0Z" stroke="#000" stroke-width="0.85" stroke-linejoin="round"/>
<path d="M43.1,126.0 Q51.6,143.5 43.1,161.0 Q49.6,143.5 43.1,126.0Z" stroke="#000" stroke-width="0.85" stroke-linejoin="round"/>
</g>
<!-- x axis label -->
<g fill="#000" class="gs">
<path d="M5.4,2.7 C3.6,2.8 1.8,2.9 1.1,2.1 C0.5,1.3 1.2,-1.0 1.9,-2.9 C2.6,-5.0 3.8,-6.75 5.4,-6.75 C7.2,-6.75 7.9,-5.5 7.5,-3.9 C7.1,-2.2 5.8,-0.95 4.2,-0.95 C2.8,-0.95 1.9,-1.7 1.9,-2.9" transform="translate(264.4,297.6)" stroke-width="1.5" fill="none" stroke="#000" stroke-linecap="round" stroke-linejoin="round"/>
<path d="M273.2,298.3 L276.2,287.4" stroke="#000" stroke-width="1.25" fill="none"/>
<path d="M5.4,2.7 C3.6,2.8 1.8,2.9 1.1,2.1 C0.5,1.3 1.2,-1.0 1.9,-2.9 C2.6,-5.0 3.8,-6.75 5.4,-6.75 C7.2,-6.75 7.9,-5.5 7.5,-3.9 C7.1,-2.2 5.8,-0.95 4.2,-0.95 C2.8,-0.95 1.9,-1.7 1.9,-2.9" transform="translate(277.8,297.6)" stroke-width="1.5" fill="none" stroke="#000" stroke-linecap="round" stroke-linejoin="round"/>
<text x="286.9" y="301.0" font-size="13.3" stroke="#000" stroke-width="0.4">out</text>
</g>
</svg>
</body></html>
